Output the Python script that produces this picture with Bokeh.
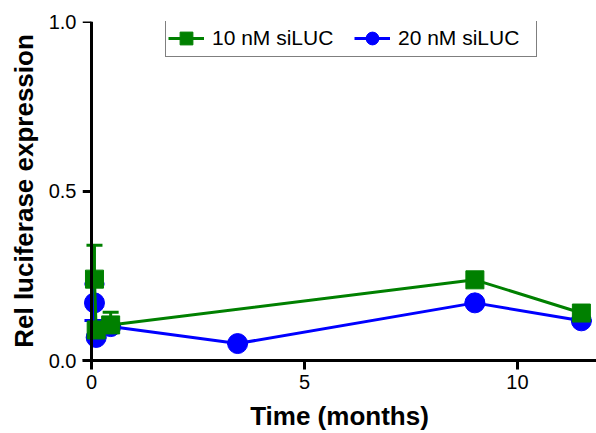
from bokeh.plotting import figure
from bokeh.models import (ColumnDataSource, Whisker, Legend, LegendItem, FixedTicker,
                          LinearAxis, CustomJSTickFormatter)
from bokeh.embed import file_html
from bokeh.resources import INLINE

# Data
t_10nM = [0.07, 0.11, 0.45, 9.0, 11.5]
v_10nM = [0.24, 0.09, 0.105, 0.238, 0.14]
err_up_10nM = [0.34, 0.09, 0.142, 0.238, 0.14]
err_lo_10nM = [0.24, 0.09, 0.105, 0.238, 0.14]

t_20nM = [0.07, 0.11, 0.45, 3.43, 9.0, 11.5]
v_20nM = [0.17, 0.068, 0.10, 0.05, 0.17, 0.117]
err_up_20nM = [0.226, 0.068, 0.10, 0.05, 0.17, 0.117]
err_lo_20nM = [0.118, 0.068, 0.10, 0.05, 0.17, 0.117]

x_ticks = [0, 5, 10]
y_ticks = [0.0, 0.5, 1.0]

GREEN = "#008000"
BLUE = "#0000FF"
FONT = "Liberation Sans"

p = figure(width=596, height=433, x_range=(-0.211, 11.855), y_range=(0, 1),
           output_backend="svg", toolbar_location=None,
           min_border_left=82, min_border_right=0, min_border_top=21,
           min_border_bottom=10)
p.outline_line_color = None
p.grid.visible = False

src_b = ColumnDataSource(dict(t=t_20nM, v=v_20nM, up=err_up_20nM, lo=err_lo_20nM))
src_g = ColumnDataSource(dict(t=t_10nM, v=v_10nM, up=err_up_10nM, lo=err_lo_10nM))

wb = Whisker(source=src_b, base="t", upper="up", lower="lo", dimension="height",
             line_color=BLUE, line_width=3)
for h in (wb.upper_head, wb.lower_head):
    h.line_color = BLUE
    h.line_width = 3
    h.size = 20
p.add_layout(wb)

wg = Whisker(source=src_g, base="t", upper="up", lower="lo", dimension="height",
             line_color=GREEN, line_width=3)
wg.upper_head.line_color = GREEN
wg.upper_head.line_width = 3
wg.upper_head.size = 16
wg.lower_head.line_color = None
p.add_layout(wg)

lb = p.line("t", "v", source=src_b, line_color=BLUE, line_width=3)
sb = p.scatter("t", "v", source=src_b, marker="circle", size=20,
               fill_color=BLUE, line_color=BLUE)
lg = p.line("t", "v", source=src_g, line_color=GREEN, line_width=3)
sg = p.scatter("t", "v", source=src_g, marker="square", size=18,
               fill_color=GREEN, line_color=GREEN)

legend = Legend(items=[LegendItem(label="10 nM siLUC", renderers=[lg, sg]),
                       LegendItem(label="20 nM siLUC", renderers=[lb, sb])],
                orientation="horizontal", location=(83, 303),
                label_text_font=FONT, label_text_font_size="21px",
                label_text_color="black",
                border_line_color="black", border_line_width=1.5,
                background_fill_alpha=1, padding=2, spacing=6,
                glyph_width=36, glyph_height=32, label_standoff=8,
                label_width=136, margin=0)
p.add_layout(legend)

def style(ax):
    ax.axis_line_width = 3
    ax.major_tick_line_width = 3
    ax.major_tick_out = 9
    ax.major_tick_in = 0
    ax.minor_tick_out = 0
    ax.minor_tick_in = 0
    ax.major_label_text_font = FONT
    ax.major_label_text_font_size = "20px"
    ax.major_label_text_color = "black"
    ax.axis_label_text_font = FONT
    ax.axis_label_text_font_size = "26px"
    ax.axis_label_text_font_style = "bold"
    ax.axis_label_text_color = "black"

style(p.xaxis[0])
style(p.yaxis[0])
p.xaxis.ticker = FixedTicker(ticks=x_ticks)
p.xaxis.axis_label = "Time (months)"
p.xaxis.major_label_standoff = 5
p.xaxis.axis_label_standoff = 9

# left axis: labels only
ya = p.yaxis[0]
ya.ticker = FixedTicker(ticks=y_ticks)
ya.formatter = CustomJSTickFormatter(code="return tick.toFixed(1);")
ya.axis_label = "Rel luciferase expression"
ya.axis_line_color = None
ya.major_tick_line_color = None
ya.major_tick_out = 0
ya.major_label_standoff = 6
ya.axis_label_standoff = 7

# axis line and ticks at x = 0
y0 = LinearAxis(fixed_location=0, ticker=FixedTicker(ticks=y_ticks))
style(y0)
y0.major_label_text_font_size = "0px"
y0.major_label_text_color = None
y0.major_label_standoff = 0
p.add_layout(y0, "left")

open("out.html", "w").write(file_html(p, INLINE))
